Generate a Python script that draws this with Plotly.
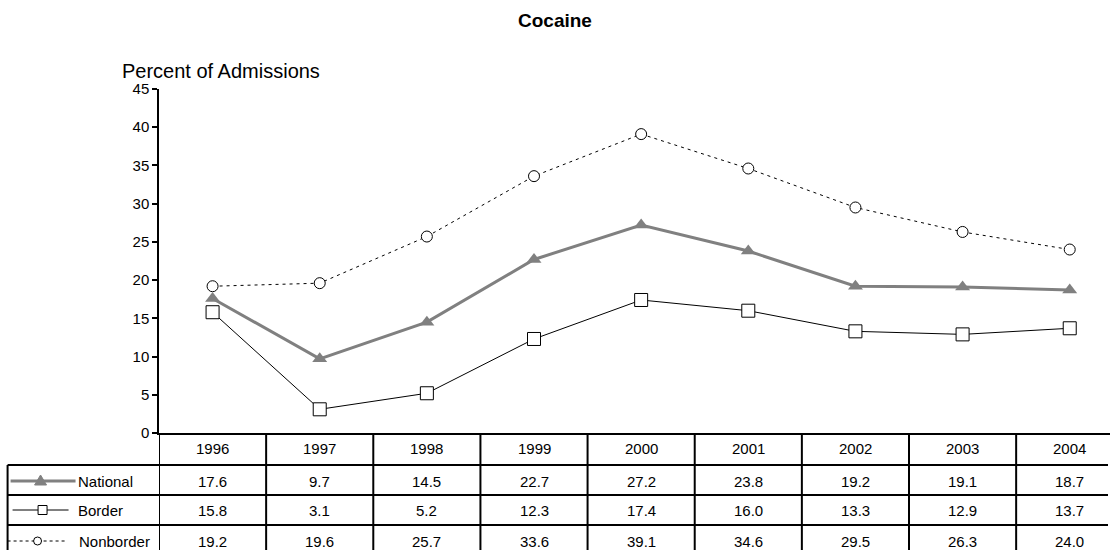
import plotly.graph_objects as go

# Data
years = ["1996", "1997", "1998", "1999", "2000", "2001", "2002", "2003", "2004"]
national = [17.6, 9.7, 14.5, 22.7, 27.2, 23.8, 19.2, 19.1, 18.7]
border = [15.8, 3.1, 5.2, 12.3, 17.4, 16.0, 13.3, 12.9, 13.7]
nonborder = [19.2, 19.6, 25.7, 33.6, 39.1, 34.6, 29.5, 26.3, 24.0]
series_names = ["National", "Border", "Nonborder"]

FONT = "Liberation Sans, Arial, sans-serif"
GRAY = "#808080"

FW, FH = 1110, 550

# layout in window pixels
x_left, x_col = 158.5, 107.2
y_top, y_zero = 89, 433
ML, MT = x_left, y_top
MB = FH - y_zero
plot_w = FW - ML
plot_h = y_zero - MT


def pxx(x):
    return (x - ML) / plot_w


def pxy(y):
    return (y_zero - y) / plot_h


row_lines = [433, 465, 495, 525]
row_mid = [481, 510, 541]
tab_left = 7

fig = go.Figure()

fig.add_trace(go.Scatter(x=list(range(len(years))), y=nonborder, mode="lines+markers", name="Nonborder",
                         line=dict(color="black", width=1, dash="3px,4px"),
                         marker=dict(symbol="circle", size=11, color="white", line=dict(color="black", width=1)),
                         cliponaxis=False))
fig.add_trace(go.Scatter(x=list(range(len(years))), y=border, mode="lines+markers", name="Border",
                         line=dict(color="black", width=1),
                         marker=dict(symbol="square", size=13, color="white", line=dict(color="black", width=1)),
                         cliponaxis=False))
fig.add_trace(go.Scatter(x=list(range(len(years))), y=national, mode="lines+markers", name="National",
                         line=dict(color=GRAY, width=3),
                         marker=dict(symbol="triangle-up", size=13, color=GRAY),
                         cliponaxis=False))

fig.update_layout(
    width=FW, height=FH, autosize=False,
    margin=dict(l=ML, r=0, t=MT, b=MB, pad=0),
    plot_bgcolor="white", paper_bgcolor="white",
    showlegend=False,
    font=dict(family=FONT, size=15, color="black"),
    xaxis=dict(range=[-0.5, -0.5 + plot_w / x_col], showticklabels=False, ticks="",
               showgrid=False, zeroline=False, showline=True, linecolor="black", linewidth=2),
    yaxis=dict(range=[0, 45], dtick=5, ticks="outside", ticklen=5, tickwidth=1.5, tickcolor="black",
               showline=True, linecolor="black", linewidth=1.5, showgrid=False, zeroline=False,
               tickfont=dict(size=15)),
)

shapes = []
blk = dict(color="black", width=2)
for yl in row_lines[1:]:
    shapes.append(dict(type="line", xref="paper", yref="paper", x0=pxx(tab_left), x1=pxx(1108),
                       y0=pxy(yl), y1=pxy(yl), line=blk))
shapes.append(dict(type="line", xref="paper", yref="paper", x0=pxx(tab_left), x1=pxx(tab_left),
                   y0=pxy(row_lines[1]), y1=pxy(560), line=blk))
for i in range(len(years)):
    shapes.append(dict(type="line", xref="x", yref="paper", x0=i - 0.5, x1=i - 0.5,
                       y0=0, y1=pxy(560), line=blk))

# legend keys in the first table column
keys = [
    dict(x0=10, x1=75, xm=40, line=dict(color=GRAY, width=3), kind="tri"),
    dict(x0=12, x1=68, xm=42, line=dict(color="black", width=1), kind="sq"),
    dict(x0=7, x1=67, xm=37, line=dict(color="black", width=1, dash="3px,3px"), kind="circ"),
]
for k, ym in zip(keys, row_mid):
    shapes.append(dict(type="line", xref="paper", yref="paper", x0=pxx(k["x0"]), x1=pxx(k["x1"]),
                       y0=pxy(ym), y1=pxy(ym), line=k["line"]))
    xm = k["xm"]
    if k["kind"] == "tri":
        path = f"M {pxx(xm - 6)} {pxy(ym + 4)} L {pxx(xm + 6)} {pxy(ym + 4)} L {pxx(xm)} {pxy(ym - 6)} Z"
        shapes.append(dict(type="path", xref="paper", yref="paper", path=path,
                           fillcolor=GRAY, line=dict(color=GRAY, width=1)))
    elif k["kind"] == "sq":
        shapes.append(dict(type="rect", xref="paper", yref="paper", x0=pxx(xm - 4.5), x1=pxx(xm + 4.5),
                           y0=pxy(ym - 4.5), y1=pxy(ym + 4.5), fillcolor="white", line=dict(color="black", width=1)))
    else:
        shapes.append(dict(type="circle", xref="paper", yref="paper", x0=pxx(xm - 4), x1=pxx(xm + 4),
                           y0=pxy(ym - 4), y1=pxy(ym + 4), fillcolor="white", line=dict(color="black", width=1)))
fig.update_layout(shapes=shapes)

ann = []
mid = dict(showarrow=False, xanchor="center", yanchor="middle")
for i, yr in enumerate(years):
    ann.append(dict(x=i, y=pxy(448), xref="x", yref="paper", text=yr, **mid))
for vals, ym in zip([national, border, nonborder], row_mid):
    for i, v in enumerate(vals):
        ann.append(dict(x=i, y=pxy(ym), xref="x", yref="paper", text=f"{v:.1f}", **mid))
for name, ym in zip(series_names, row_mid):
    ann.append(dict(x=pxx(75 if name != "Nonborder" else 76), y=pxy(ym), xref="paper", yref="paper",
                    text=name, showarrow=False, xanchor="left", yanchor="middle"))

ann.append(dict(x=pxx(555), y=pxy(20), xref="paper", yref="paper", text="<b>Cocaine</b>",
                font=dict(size=19), **mid))
ann.append(dict(x=pxx(119), y=pxy(71), xref="paper", yref="paper", text="Percent of Admissions",
                showarrow=False, xanchor="left", yanchor="middle", font=dict(size=20)))
fig.update_layout(annotations=ann)

# drop the browser's default body margin so the 1110x550 figure fills the window
fig.write_html("out.html", config={"displayModeBar": False},
               post_script="document.body.style.margin='0';")
